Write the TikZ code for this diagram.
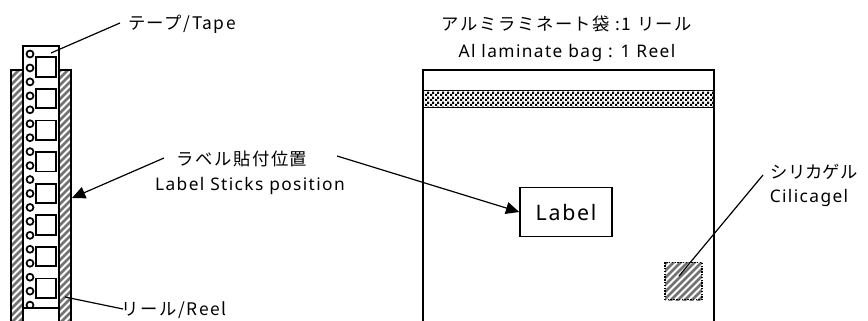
\documentclass[tikz,border=0pt]{standalone}
\usepackage{fontspec}
\setmainfont[LetterSpace=8]{Noto Sans}
\newfontfamily\jpfont{Noto Sans CJK JP}
\newfontfamily\jpwide[LetterSpace=9]{Noto Sans CJK JP}
\usetikzlibrary{patterns,arrows.meta}
\pgfdeclarepatternformonly{finecheck}{\pgfqpoint{0pt}{0pt}}{\pgfqpoint{3.75pt}{3.75pt}}{\pgfqpoint{3.75pt}{3.75pt}}{
  \pgfpathrectangle{\pgfqpoint{0pt}{0pt}}{\pgfqpoint{1.875pt}{1.875pt}}
  \pgfpathrectangle{\pgfqpoint{1.875pt}{1.875pt}}{\pgfqpoint{1.875pt}{1.875pt}}
  \pgfusepath{fill}
}
\tikzset{
  outline/.style={draw=black, line width=1.4pt},
  bagline/.style={draw=black, line width=1.1pt},
  leader/.style={draw=black, line width=0.9pt},
  pointer/.style={leader, -{Triangle[length=10pt,width=9pt]}},
  caption/.style={draw=none, inner sep=0pt, font=\fontsize{13pt}{15pt}\selectfont},
  stripe/.style={draw=black!55, line width=1.9pt},
}
\begin{document}
\begin{tikzpicture}[x=0.75pt,y=-0.75pt]
\useasboundingbox (0,0) rectangle (868,321);

%%%%%%%%%%%%%%%%%%%%%%%%%%%%%%%%%%%%%%%%%%% reel and tape
\begin{scope}
\clip (11,70) rectangle (71,321);
\foreach \y in {70,77,...,400}
  \draw[stripe] (5,\y) -- (77,\y-72);
\end{scope}
\draw[outline] (11,321) -- (11,70) -- (71,70) -- (71,321);
\fill[white] (23,46) rectangle (59,321);
\draw[outline] (23,321) -- (23,46) -- (59,46) -- (59,321);
\foreach \i in {0,...,18}
  \node[circle, draw=black, line width=1.3pt, fill=white, inner sep=0pt, minimum size=5.2pt] (hole\i) at (30,54+\i*13.95) {};
\foreach \i in {0,...,7}
  \node[rectangle, draw=black, line width=1.3pt, inner sep=0pt, minimum width=14.5pt, minimum height=14.5pt] (pocket\i) at (46,67+\i*31.6) {};
\fill[white] (24,308) rectangle (58,321);
\draw[outline] (23,308) -- (59,308);

%%%%%%%%%%%%%%%%%%%%%%%%%%%%%%%%%%%%%%%%%%% bag
\draw[bagline] (423,321) -- (423,70) -- (714,70) -- (714,321);
\node[rectangle, bagline, pattern=finecheck, pattern color=black, minimum width=218pt, minimum height=13pt, inner sep=0pt] (seal) at (568.5,99) {};
\node[rectangle, bagline, inner sep=0pt, minimum width=69pt, minimum height=37pt, font=\fontsize{16pt}{18pt}\selectfont] (label) at (566,212) {Label};
\begin{scope}
\clip (665,262) rectangle (702,300);
\foreach \y in {262,269,...,340}
  \draw[stripe] (660,\y) -- (707,\y-47);
\end{scope}
\node[rectangle, draw=black, densely dotted, line width=1.1pt, inner sep=0pt, minimum width=28pt, minimum height=28pt] (silica) at (683.5,281) {};

%%%%%%%%%%%%%%%%%%%%%%%%%%%%%%%%%%%%%%%%%%% texts
\node[caption] (tapetxt) at (182,24) {\jpwide テープ/Tape};
\node[caption] (reeltxt) at (174,310) {\jpwide リール/Reel};
\node[caption] (posjp) at (242,159) {\jpwide ラベル貼付位置};
\node[caption] (posen) at (250,186) {Label Sticks position};
\node[caption] (bagjp) at (567,24) {\jpwide アルミラミネート袋 :1 リール};
\node[caption] (bagen) at (567,53) {Al laminate bag : 1 Reel};
\node[caption] (silicajp) at (814,172) {\jpfont シリカゲル};
\node[caption] (silicaen) at (809,198) {Cilicagel};

%%%%% leaders
\coordinate (tapeend) at (51,53);
\coordinate (tapefrom) at (120,23);
\coordinate (reelend) at (65,297);
\coordinate (reelfrom) at (123,309);
\coordinate (posleft) at (164,158);
\coordinate (posright) at (337,156);
\coordinate (reelpos) at (72,198);
\coordinate (silicaend) at (679,276);
\coordinate (silicafrom) at (763,175);
\draw[leader] (tapefrom) -- (tapeend);
\draw[leader] (reelfrom) -- (reelend);
\draw[pointer] (posleft) -- (reelpos);
\draw[pointer] (posright) -- (label.west);
\draw[leader] (silicafrom) -- (silicaend);
\end{tikzpicture}
\end{document}
